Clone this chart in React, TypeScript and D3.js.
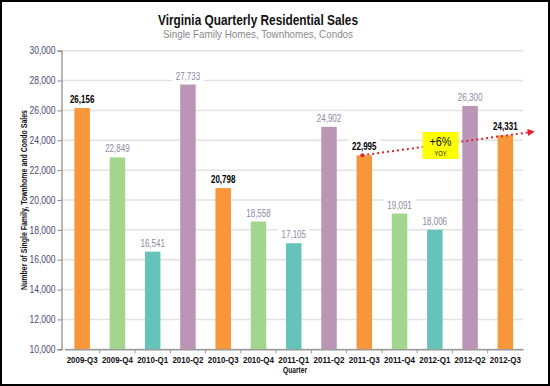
import { useEffect, useRef } from "react"
import * as d3 from "d3"

const quarters = [
	"2009-Q3", "2009-Q4", "2010-Q1", "2010-Q2", "2010-Q3", "2010-Q4", "2011-Q1",
	"2011-Q2", "2011-Q3", "2011-Q4", "2012-Q1", "2012-Q2", "2012-Q3",
]
const sales = [26156, 22849, 16541, 27733, 20798, 18558, 17105, 24902, 22995, 19091, 18006, 26300, 24331]
// quarter of year -> bar colour
const quarterColors = { Q1: "#66c3b9", Q2: "#ba95b5", Q3: "#f7963a", Q4: "#a2d58d" }
const yTicks = [10000, 12000, 14000, 16000, 18000, 20000, 22000, 24000, 26000, 28000, 30000]
const yoyLabel = ["+6%", "YOY"]
const yoyEnd = 24580

const W = 550
const H = 386
const font = "'Liberation Sans', Arial, sans-serif"

// squeeze text to the width of the narrow font used in the original
const fit = (sel, len) => sel.attr("textLength", len).attr("lengthAdjust", "spacingAndGlyphs")

function App() {
	const ref = useRef<SVGSVGElement>(null)

	useEffect(() => {
		const svg = d3.select(ref.current)
		svg.selectAll("*").remove()

		const x = d3.scaleBand().domain(quarters).range([64.5, 523])
		const y = d3.scaleLinear().domain([10000, 30000]).range([349.3, 50.7])
		const barW = 15.5
		const cx = (q) => x(q) + x.bandwidth() / 2

		svg.append("rect").attr("width", W).attr("height", H).attr("fill", "#fff")

		// titles
		svg.append("text")
			.attr("x", 158).attr("y", 25)
			.attr("font-family", font).attr("font-weight", "bold").attr("font-size", 15)
			.attr("fill", "#111")
			.text("Virginia Quarterly Residential Sales")
			.call(fit, 200)
		svg.append("text")
			.attr("x", 163).attr("y", 38)
			.attr("font-family", font).attr("font-size", 11.5)
			.attr("fill", "#8a8a8a")
			.text("Single Family Homes, Townhomes, Condos")
			.call(fit, 190)

		// grid
		svg.append("g")
			.selectAll("line")
			.data(yTicks)
			.enter()
			.append("line")
			.attr("x1", 61).attr("x2", 523)
			.attr("y1", (d) => y(d)).attr("y2", (d) => y(d))
			.attr("stroke", "#e2e2e2").attr("stroke-width", 1.5)

		// y axis
		const yAxis = svg.append("g")
			.attr("transform", "translate(61.5,0)")
			.call(d3.axisLeft(y).tickValues(yTicks).tickFormat(d3.format(",")).tickSize(4))
		yAxis.select(".domain").attr("stroke", "#888").attr("stroke-width", 1.2)
		yAxis.selectAll(".tick line").attr("stroke", "#888")
		yAxis.selectAll("text")
			.attr("font-family", font).attr("font-size", 10).attr("fill", "#4a4a70")
			.attr("x", -6)
			.call(fit, 26)

		svg.append("text")
			.attr("transform", "translate(27,200) rotate(-90)")
			.attr("text-anchor", "middle")
			.attr("font-family", font).attr("font-weight", "bold").attr("font-size", 8.5)
			.attr("fill", "#111")
			.text("Number of Single Family, Townhome and Condo Sales")
			.call(fit, 180)

		// bars
		svg.append("g")
			.selectAll("rect")
			.data(quarters)
			.enter()
			.append("rect")
			.attr("x", (d) => cx(d) - barW / 2)
			.attr("width", barW)
			.attr("y", (d, i) => y(sales[i]))
			.attr("height", (d, i) => y(10000) - y(sales[i]))
			.attr("fill", (d) => quarterColors[d.slice(5)])

		// x axis
		const xAxis = svg.append("g")
			.attr("transform", `translate(0,${y(10000)})`)
			.call(d3.axisBottom(x).tickSize(0).tickPadding(7))
		xAxis.select(".domain").attr("stroke", "#999").attr("stroke-width", 1.5)
		xAxis.selectAll("text")
			.attr("font-family", font).attr("font-weight", "bold").attr("font-size", 9.5)
			.attr("fill", "#111")
			.call(fit, 31)
		xAxis.append("g")
			.selectAll("line")
			.data(quarters.slice(1))
			.enter()
			.append("line")
			.attr("x1", (d) => x(d)).attr("x2", (d) => x(d))
			.attr("y1", 0).attr("y2", 4)
			.attr("stroke", "#999")

		svg.append("text")
			.attr("x", 295).attr("y", 373)
			.attr("text-anchor", "middle")
			.attr("font-family", font).attr("font-weight", "bold").attr("font-size", 8.5)
			.attr("fill", "#111")
			.text("Quarter")
			.call(fit, 24)

		// value labels
		const labels = svg.append("g")
		quarters.forEach((q, i) => {
			const isQ3 = q.endsWith("Q3")
			const label = d3.format(",")(sales[i])
			labels.append("rect")
				.attr("x", cx(q) - 16).attr("y", y(sales[i]) - 16)
				.attr("width", 32).attr("height", 13)
				.attr("fill", "#fff")
			labels.append("text")
				.attr("x", cx(q)).attr("y", y(sales[i]) - 5)
				.attr("text-anchor", "middle")
				.attr("font-family", font).attr("font-size", 10)
				.attr("font-weight", isQ3 ? "bold" : "normal")
				.attr("fill", isQ3 ? "#000" : "#8a8aa0")
				.text(label)
				.call(fit, 24.5)
		})

		// YoY arrow
		svg.append("defs")
			.append("marker")
			.attr("id", "arrow")
			.attr("viewBox", "0 0 10 10")
			.attr("refX", 9).attr("refY", 5)
			.attr("markerWidth", 10).attr("markerHeight", 7)
			.attr("markerUnits", "userSpaceOnUse")
			.attr("orient", "auto")
			.append("path")
			.attr("d", "M0,0L10,5L0,10z")
			.attr("fill", "#e0202a")

		const x0 = cx("2011-Q3") - 2
		const y0 = y(sales[8])
		const x1 = x.range()[1] + 11
		const y1 = y(yoyEnd)
		svg.append("line")
			.attr("x1", x0).attr("y1", y0)
			.attr("x2", x1).attr("y2", y1)
			.attr("stroke", "#e0202a").attr("stroke-width", 2)
			.attr("stroke-dasharray", "2,3")
			.attr("marker-end", "url(#arrow)")
		svg.append("circle")
			.attr("cx", x0).attr("cy", y0).attr("r", 2)
			.attr("fill", "#e0202a")

		const bx = x("2012-Q1") + x.bandwidth() * 0.15
		svg.append("rect")
			.attr("x", bx).attr("y", 132)
			.attr("width", 36).attr("height", 27)
			.attr("fill", "#ffff00")
		svg.append("text")
			.attr("x", bx + 18).attr("y", 146)
			.attr("text-anchor", "middle")
			.attr("font-family", font).attr("font-size", 12.5)
			.attr("fill", "#111")
			.text(yoyLabel[0])
			.call(fit, 22)
		svg.append("text")
			.attr("x", bx + 18).attr("y", 156)
			.attr("text-anchor", "middle")
			.attr("font-family", font).attr("font-size", 8)
			.attr("fill", "#111")
			.text(yoyLabel[1])
			.call(fit, 12)

		// frame
		svg.append("rect")
			.attr("x", 1).attr("y", 1)
			.attr("width", W - 2).attr("height", H - 2)
			.attr("fill", "none").attr("stroke", "#000").attr("stroke-width", 2)
	}, [])

	return (
		<svg
			ref={ref}
			width={W}
			height={H}
			style={{ position: "absolute", left: 0, top: 0, display: "block" }}
		></svg>
	)
}

export default App
